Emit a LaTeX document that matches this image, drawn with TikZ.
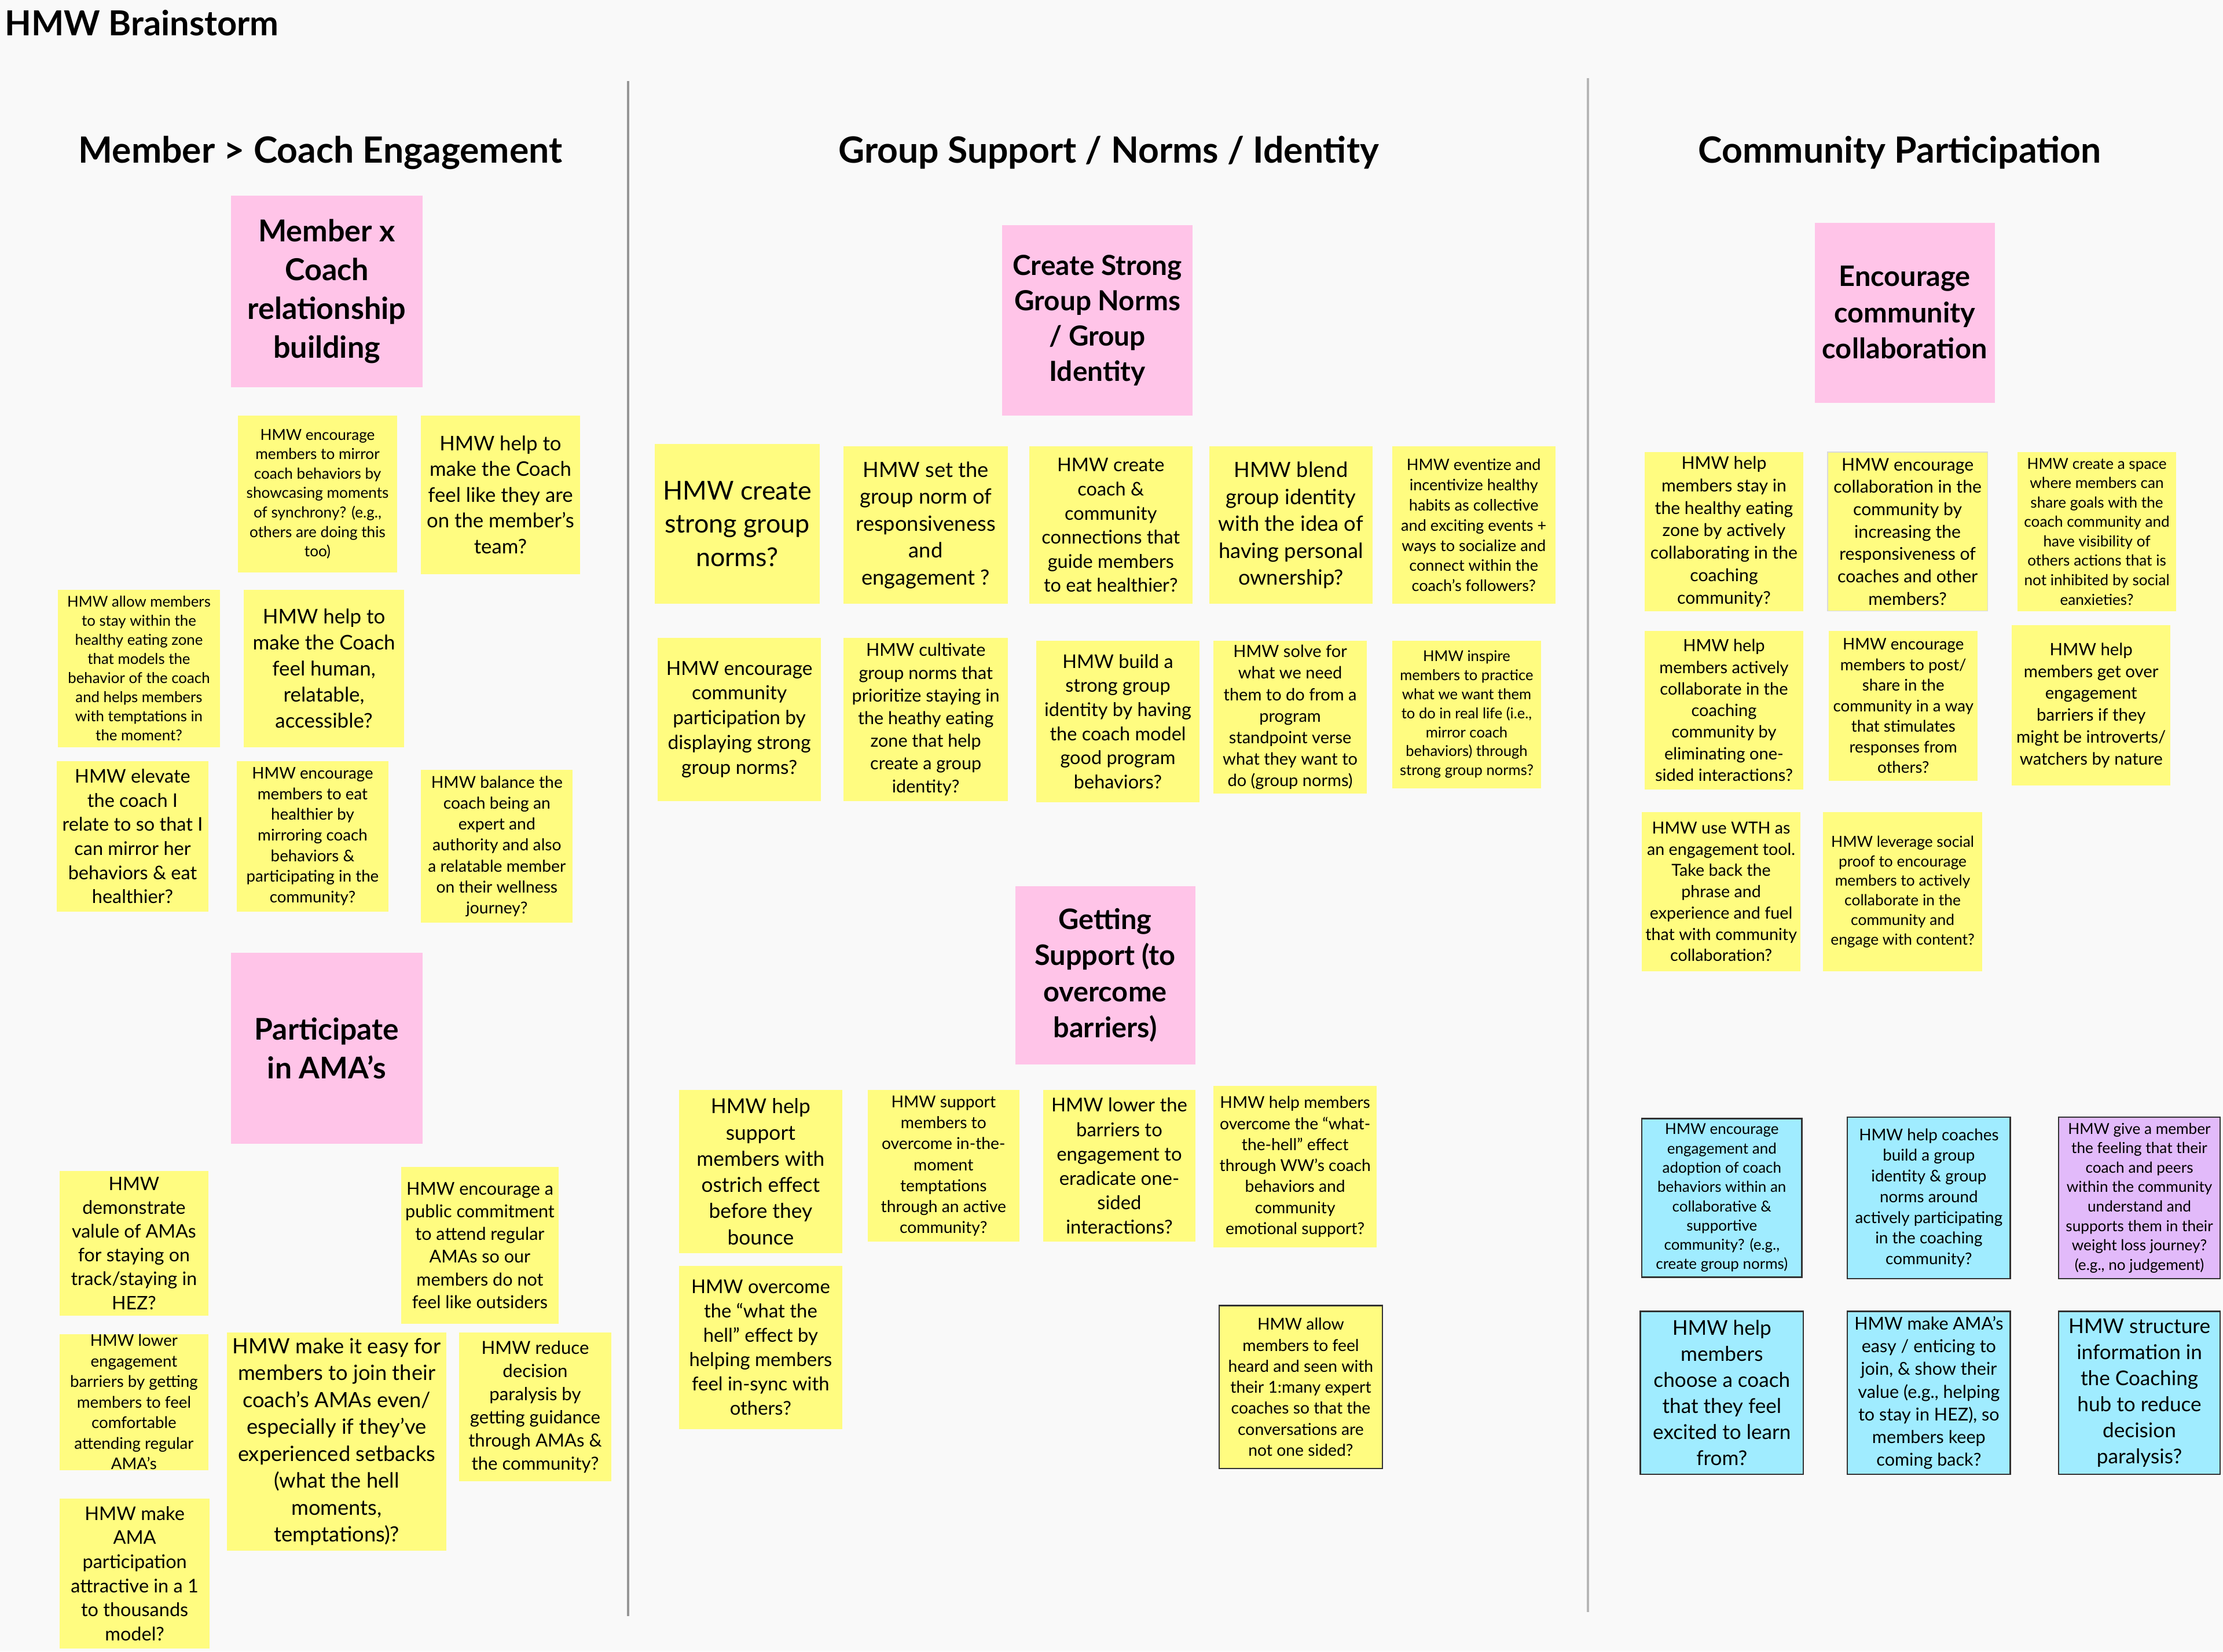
\documentclass[tikz,border=0pt]{standalone}
\usepackage{fontspec}
\setmainfont{Lato}
\definecolor{bgc}{RGB}{249,249,249}
\definecolor{yel}{RGB}{255,252,128}
\definecolor{pnk}{RGB}{255,196,232}
\definecolor{cyn}{RGB}{160,236,255}
\definecolor{prp}{RGB}{226,186,250}
\definecolor{sep}{RGB}{150,150,150}
\definecolor{bord}{RGB}{50,50,50}
\newcommand\notefont{}
\newcommand\nf[1]{\pgfmathsetmacro\nfsz{#1*0.468}\pgfmathsetmacro\nfsk{#1*0.6}\fontsize{\nfsz}{\nfsk}\selectfont}
\newcommand\note[8]{\node[#6, minimum width={(#4-#2)*0.6pt}, minimum height={(#5-#3)*0.6pt}, font={\nf{#7}\notefont}] (#1) at ({(#2+#4)/2},{(#3+#5)/2}) {#8};}
\tikzset{
  base/.style={inner sep=0pt, align=center, text=black},
  ynote/.style={base, fill=yel},
  ynoteb/.style={base, fill=yel, draw=bord, line width=0.6pt},
  ynotef/.style={base, fill=yel, draw=black!15, line width=0.4pt},
  pnote/.style={base, fill=pnk, /utils/exec={\def\notefont{\bfseries}}},
  cnote/.style={base, fill=cyn, draw=bord, line width=0.6pt},
  vnote/.style={base, fill=prp, draw=bord, line width=0.6pt},
  colhead/.style={anchor=base, inner sep=0pt, font=\fontsize{15.3}{18}\selectfont\bfseries},
}
\begin{document}
\begin{tikzpicture}[x=0.6pt, y=-0.6pt]
\fill[bgc] (0,0) rectangle (1568,1165);
\useasboundingbox (0,0) rectangle (1568,1165);

\node[anchor=base west, inner sep=0pt, font=\fontsize{14.6}{17}\selectfont\bfseries] (title) at (3,25) {HMW Brainstorm};

\coordinate (s1t) at (443,57); \coordinate (s1b) at (443,1140);
\coordinate (s2t) at (1120,55); \coordinate (s2b) at (1120,1137);
\draw[sep, line width=0.9pt] (s1t) -- (s1b);
\draw[sep!70, line width=0.9pt] (s2t) -- (s2b);

\node[colhead] (h1) at (226,115) {Member > Coach Engagement};
\node[colhead] (h2) at (782,115) {Group Support / Norms / Identity};
\node[colhead] (h3) at (1340,115) {Community Participation};

% ---------- left column ----------
\note{p1}{163}{138}{298}{273}{pnote}{27.3}{Member x\\Coach\\relationship\\building}
\note{a1}{168}{293}{280}{404}{ynote}{13.7}{HMW encourage\\members to mirror\\coach behaviors by\\showcasing moments\\of synchrony? (e.g.,\\others are doing this\\too)}
\note{a2}{297}{293}{409}{405}{ynote}{18.2}{HMW help to\\make the Coach\\feel like they are\\on the member's\\team?}
\note{a3}{41}{416}{155}{527}{ynote}{13.5}{HMW allow members\\to stay within the\\healthy eating zone\\that models the\\behavior of the coach\\and helps members\\with temptations in\\the moment?}
\note{a4}{172}{416}{285}{527}{ynote}{18.3}{HMW help to\\make the Coach\\feel human,\\relatable,\\accessible?}
\note{a5}{40}{537}{147}{643}{ynote}{17}{HMW elevate\\the coach I\\relate to so that I\\can mirror her\\behaviors \& eat\\healthier?}
\note{a6}{167}{537}{274}{643}{ynote}{14.5}{HMW encourage\\members to eat\\healthier by\\mirroring coach\\behaviors \&\\participating in the\\community?}
\note{a7}{297}{543}{404}{651}{ynote}{14.8}{HMW balance the\\coach being an\\expert and\\authority and also\\a relatable member\\on their wellness\\journey?}

\note{p2}{163}{672}{298}{807}{pnote}{27}{Participate\\in AMA's}
\note{b1}{42}{826}{147}{928}{ynote}{16.8}{HMW\\demonstrate\\valule of AMAs\\for staying on\\track/staying in\\HEZ?}
\note{b2}{283}{823}{394}{934}{ynote}{16}{HMW encourage a\\public commitment\\to attend regular\\AMAs so our\\members do not\\feel like outsiders}
\note{b3}{42}{941}{147}{1037}{ynote}{14.5}{HMW lower\\engagement\\barriers by getting\\members to feel\\comfortable\\attending regular\\AMA's}
\note{b4}{160}{940}{315}{1094}{ynote}{19}{HMW make it easy for\\members to join their\\coach’s AMAs even/\\especially if they’ve\\experienced setbacks\\(what the hell\\moments,\\temptations)?}
\note{b5}{324}{940}{431}{1045}{ynote}{16.3}{HMW reduce\\decision\\paralysis by\\getting guidance\\through AMAs \&\\the community?}
\note{b6}{42}{1057}{148}{1163}{ynote}{17}{HMW make\\AMA\\participation\\attractive in a 1\\to thousands\\model?}

% ---------- middle column ----------
\note{p3}{707}{159}{841}{293}{pnote}{25}{Create Strong\\Group Norms\\/ Group\\Identity}
\note{c1}{462}{313}{578}{426}{ynote}{23.5}{HMW create\\strong group\\norms?}
\note{c2}{595}{315}{711}{426}{ynote}{19}{HMW set the\\group norm of\\responsiveness\\and\\engagement ?}
\note{c3}{726}{315}{841}{426}{ynote}{17}{HMW create\\coach \&\\community\\connections that\\guide members\\to eat healthier?}
\note{c4}{853}{315}{968}{426}{ynote}{19}{HMW blend\\group identity\\with the idea of\\having personal\\ownership?}
\note{c5}{982}{315}{1097}{426}{ynote}{14.2}{HMW eventize and\\incentivize healthy\\habits as collective\\and exciting events +\\ways to socialize and\\connect within the\\coach's followers?}

\note{d1}{464}{450}{579}{565}{ynote}{17.5}{HMW encourage\\community\\participation by\\displaying strong\\group norms?}
\note{d2}{595}{450}{711}{565}{ynote}{16}{HMW cultivate\\group norms that\\prioritize staying in\\the heathy eating\\zone that help\\create a group\\identity?}
\note{d3}{731}{452}{846}{566}{ynote}{17}{HMW build a\\strong group\\identity by having\\the coach model\\good program\\behaviors?}
\note{d4}{856}{452}{964}{560}{ynote}{15.2}{HMW solve for\\what we need\\them to do from a\\program\\standpoint verse\\what they want to\\do (group norms)}
\note{d5}{982}{452}{1087}{556}{ynote}{13.4}{HMW inspire\\members to practice\\what we want them\\to do in real life (i.e.,\\mirror coach\\behaviors) through\\strong group norms?}

\note{p4}{716}{625}{843}{751}{pnote}{25.5}{Getting\\Support (to\\overcome\\barriers)}
\note{e1}{479}{769}{594}{884}{ynote}{18.5}{HMW help\\support\\members with\\ostrich effect\\before they\\bounce}
\note{e2}{612}{769}{719}{876}{ynote}{14.8}{HMW support\\members to\\overcome in-the-\\moment\\temptations\\through an active\\community?}
\note{e3}{736}{769}{843}{876}{ynote}{17.2}{HMW lower the\\barriers to\\engagement to\\eradicate one-\\sided\\interactions?}
\note{e4}{856}{766}{971}{880}{ynote}{14.8}{HMW help members\\overcome the “what-\\the-hell” effect\\through WW’s coach\\behaviors and\\community\\emotional support?}
\note{e5}{479}{893}{594}{1008}{ynote}{17.2}{HMW overcome\\the “what the\\hell” effect by\\helping members\\feel in-sync with\\others?}
\note{e6}{860}{921}{975}{1036}{ynoteb}{14.8}{HMW allow\\members to feel\\heard and seen with\\their 1:many expert\\coaches so that the\\conversations are\\not one sided?}

% ---------- right column ----------
\note{p5}{1280}{157}{1407}{284}{pnote}{25.5}{Encourage\\community\\collaboration}
\note{f1}{1160}{319}{1272}{431}{ynote}{15.8}{HMW help\\members stay in\\the healthy eating\\zone by actively\\collaborating in the\\coaching\\community?}
\note{f2}{1289}{319}{1402}{431}{ynotef}{15.8}{HMW encourage\\collaboration in the\\community by\\increasing the\\responsiveness of\\coaches and other\\members?}
\note{f3}{1423}{319}{1535}{431}{ynote}{13.7}{HMW create a space\\where members can\\share goals with the\\coach community and\\have visibility of\\others actions that is\\not inhibited by social\\eanxieties?}
\note{f4}{1160}{445}{1272}{557}{ynote}{15.2}{HMW help\\members actively\\collaborate in the\\coaching\\community by\\eliminating one-\\sided interactions?}
\note{f5}{1290}{445}{1395}{551}{ynote}{14.5}{HMW encourage\\members to post/\\share in the\\community in a way\\that stimulates\\responses from\\others?}
\note{f6}{1419}{441}{1531}{554}{ynote}{15.4}{HMW help\\members get over\\engagement\\barriers if they\\might be introverts/\\watchers by nature}
\note{f7}{1158}{573}{1270}{685}{ynote}{15}{HMW use WTH as\\an engagement tool.\\Take back the\\phrase and\\experience and fuel\\that with community\\collaboration?}
\note{f8}{1286}{573}{1398}{685}{ynote}{13.8}{HMW leverage social\\proof to encourage\\members to actively\\collaborate in the\\community and\\engage with content?}

\note{g1}{1158}{789}{1271}{901}{cnote}{13.6}{HMW encourage\\engagement and\\adoption of coach\\behaviors within an\\collaborative \&\\supportive\\community? (e.g.,\\create group norms)}
\note{g2}{1303}{788}{1418}{902}{cnote}{14.6}{HMW help coaches\\build a group\\identity \& group\\norms around\\actively participating\\in the coaching\\community?}
\note{g3}{1452}{788}{1566}{902}{vnote}{13.7}{HMW give a member\\the feeling that their\\coach and peers\\within the community\\understand and\\supports them in their\\weight loss journey?\\(e.g., no judgement)}
\note{g4}{1157}{925}{1272}{1040}{cnote}{18.4}{HMW help\\members\\choose a coach\\that they feel\\excited to learn\\from?}
\note{g5}{1303}{925}{1418}{1040}{cnote}{16}{HMW make AMA's\\easy / enticing to\\join, \& show their\\value (e.g., helping\\to stay in HEZ), so\\members keep\\coming back?}
\note{g6}{1452}{925}{1566}{1040}{cnote}{18.4}{HMW structure\\information in\\the Coaching\\hub to reduce\\decision\\paralysis?}
\end{tikzpicture}
\end{document}
